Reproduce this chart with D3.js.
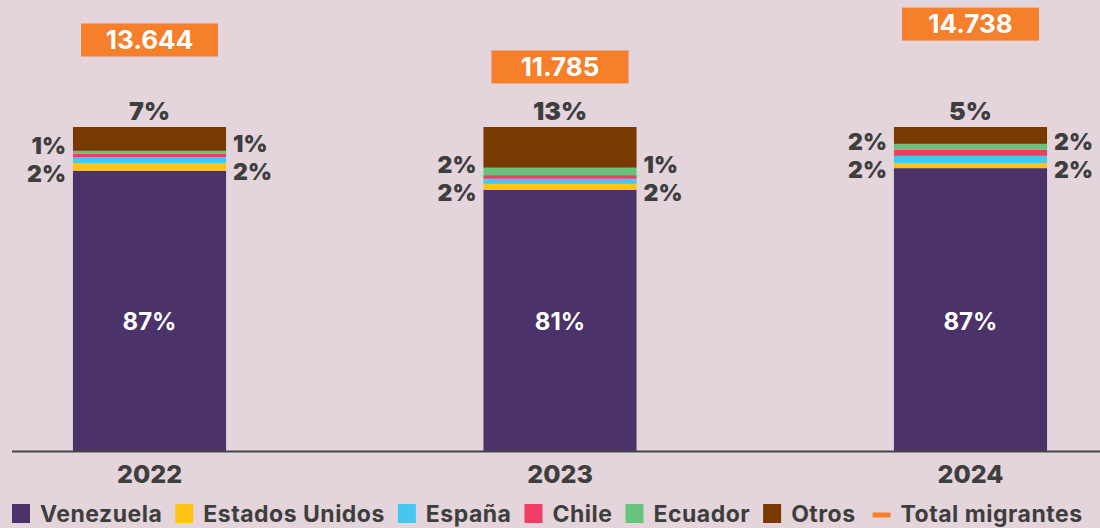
<!DOCTYPE html>
<html>
<head>
<meta charset="utf-8">
<script src="https://cdn.jsdelivr.net/npm/d3@7"></script>
<style>
  html, body { margin: 0; padding: 0; background: #e4d4dc; }
  svg { display: block; }
  text { font-family: Inter, "Open Sans", sans-serif; }
</style>
</head>
<body>
<svg id="chart" width="1100" height="528"></svg>
<script>
// ---- Data ----
const years = ["2022", "2023", "2024"];
const venezuela = [86.5, 80.6, 87.3];
const estadosUnidos = [2.4, 1.85, 1.6];
const espana = [1.85, 1.6, 2.2];
const chile = [1.0, 1.1, 1.85];
const ecuador = [0.9, 2.3, 1.85];
const otros = [7.35, 12.55, 5.2];
const totalMigrantes = [13644, 11785, 14738];
const totalLabels = ["13.644", "11.785", "14.738"];

const seriesNames = ["Venezuela", "Estados Unidos", "España", "Chile", "Ecuador", "Otros"];
const seriesValues = [venezuela, estadosUnidos, espana, chile, ecuador, otros];
const seriesColors = ["#4b3268", "#ffc415", "#47c7ef", "#ef3d63", "#67c27b", "#783a00"];
const lineColor = "#f57f2a";
const textColor = "#3e3e3e";

// ---- Build table ----
const table = years.map((y, i) => {
  const row = { year: y };
  seriesNames.forEach((s, k) => row[s] = seriesValues[k][i]);
  return row;
});
const stacked = d3.stack().keys(seriesNames)(table);

const svg = d3.select("#chart");

const x = d3.scaleBand().domain(years).range([20, 1100]).paddingInner(0.627).paddingOuter(0.129);
const y = d3.scaleLinear().domain([0, 100]).range([451, 127]);
const y2 = d3.scaleLinear().domain([0, 16400]).range([238, 0]);

// ---- Bars ----
const groups = svg.append("g").selectAll("g").data(stacked).join("g")
  .attr("fill", (d, i) => seriesColors[i]);
groups.selectAll("rect").data(d => d).join("rect")
  .attr("x", d => x(d.data.year))
  .attr("width", x.bandwidth())
  .attr("y", d => y(d[1]))
  .attr("height", d => y(d[0]) - y(d[1]));

// ---- Axis line ----
const xAxis = svg.append("g").attr("transform", "translate(0,451.5)")
  .call(d3.axisBottom(x).tickSize(0).tickPadding(14));
xAxis.select(".domain").attr("d", "M12,0H1100").attr("stroke", "#444").attr("stroke-width", 2);
xAxis.selectAll(".tick text")
  .attr("font-size", 25).attr("font-weight", 800).attr("fill", textColor)
  .attr("font-family", "Inter, sans-serif");

const pct = v => Math.round(v) + "%";
const capOff = fs => fs * 0.36;

// Inner Venezuela labels
const vIdx = 0;
svg.append("g").selectAll("text").data(stacked[vIdx]).join("text")
  .attr("x", d => x(d.data.year) + x.bandwidth() / 2)
  .attr("y", d => y(40) + capOff(24))
  .attr("text-anchor", "middle").attr("font-size", 24).attr("font-weight", 700)
  .attr("fill", "#ffffff").text(d => pct(d[1] - d[0]));

// Top "Otros" labels
const oIdx = 5;
svg.append("g").selectAll("text").data(stacked[oIdx]).join("text")
  .attr("x", d => x(d.data.year) + x.bandwidth() / 2)
  .attr("y", d => y(d[1]) - 16 + capOff(25))
  .attr("text-anchor", "middle").attr("font-size", 25).attr("font-weight", 900)
  .attr("fill", textColor).text(d => pct(d[1] - d[0]));

// Side labels: left (Ecuador upper, EEUU lower), right (Chile upper, España lower)
const minGap = 28;
const sideFs = 23;
function sidePair(upperIdx, lowerIdx, side) {
  years.forEach((yr, i) => {
    const u = stacked[upperIdx][i], l = stacked[lowerIdx][i];
    let cu = (y(u[0]) + y(u[1])) / 2, cl = (y(l[0]) + y(l[1])) / 2;
    if (cl - cu < minGap) {
      const m = (cu + cl) / 2;
      cu = m - minGap / 2; cl = m + minGap / 2;
    }
    const bx = x(yr);
    const tx = side === "left" ? bx - 7 : bx + x.bandwidth() + 7;
    const anchor = side === "left" ? "end" : "start";
    [[u, cu], [l, cl]].forEach(([d, c]) => {
      svg.append("text").attr("x", tx).attr("y", c + capOff(sideFs))
        .attr("text-anchor", anchor).attr("font-size", sideFs).attr("font-weight", 900)
        .attr("fill", textColor).text(pct(d[1] - d[0]));
    });
  });
}
sidePair(4, 1, "left");
sidePair(3, 2, "right");

// ---- Total migrantes boxes ----
const boxW = 137, boxH = 33;
const boxes = svg.append("g").selectAll("g").data(years).join("g")
  .attr("transform", (d, i) => `translate(${x(d) + x.bandwidth() / 2},${y2(totalMigrantes[i])})`);
boxes.append("rect").attr("x", -boxW / 2).attr("y", -boxH / 2)
  .attr("width", boxW).attr("height", boxH).attr("fill", lineColor);
boxes.append("text").attr("text-anchor", "middle").attr("y", capOff(26))
  .attr("font-size", 26).attr("font-weight", 700).attr("fill", "#ffffff")
  .text((d, i) => totalLabels[i]);

// ---- Legend ----
const legend = svg.append("g").attr("transform", "translate(12,-2)");
let lx = 0;
const legItems = seriesNames.map((n, i) => ({ name: n, color: seriesColors[i], type: "rect" }))
  .concat([{ name: "Total migrantes", color: lineColor, type: "line" }]);
legItems.forEach((it, i) => {
  if (it.type === "rect") {
    legend.append("rect").attr("x", lx).attr("y", 506).attr("width", 18).attr("height", 19).attr("fill", it.color);
  } else {
    lx += 4;
    legend.append("rect").attr("x", lx).attr("y", 514.5).attr("width", 18).attr("height", 5).attr("fill", it.color);
  }
  const t = legend.append("text").attr("x", lx + 28).attr("y", 516 + capOff(23))
    .attr("font-size", 23).attr("font-weight", 700).attr("letter-spacing", 0.5)
    .attr("fill", textColor).text(it.name);
  lx += 28 + t.node().getComputedTextLength() + 13;
});
</script>
</body>
</html>
